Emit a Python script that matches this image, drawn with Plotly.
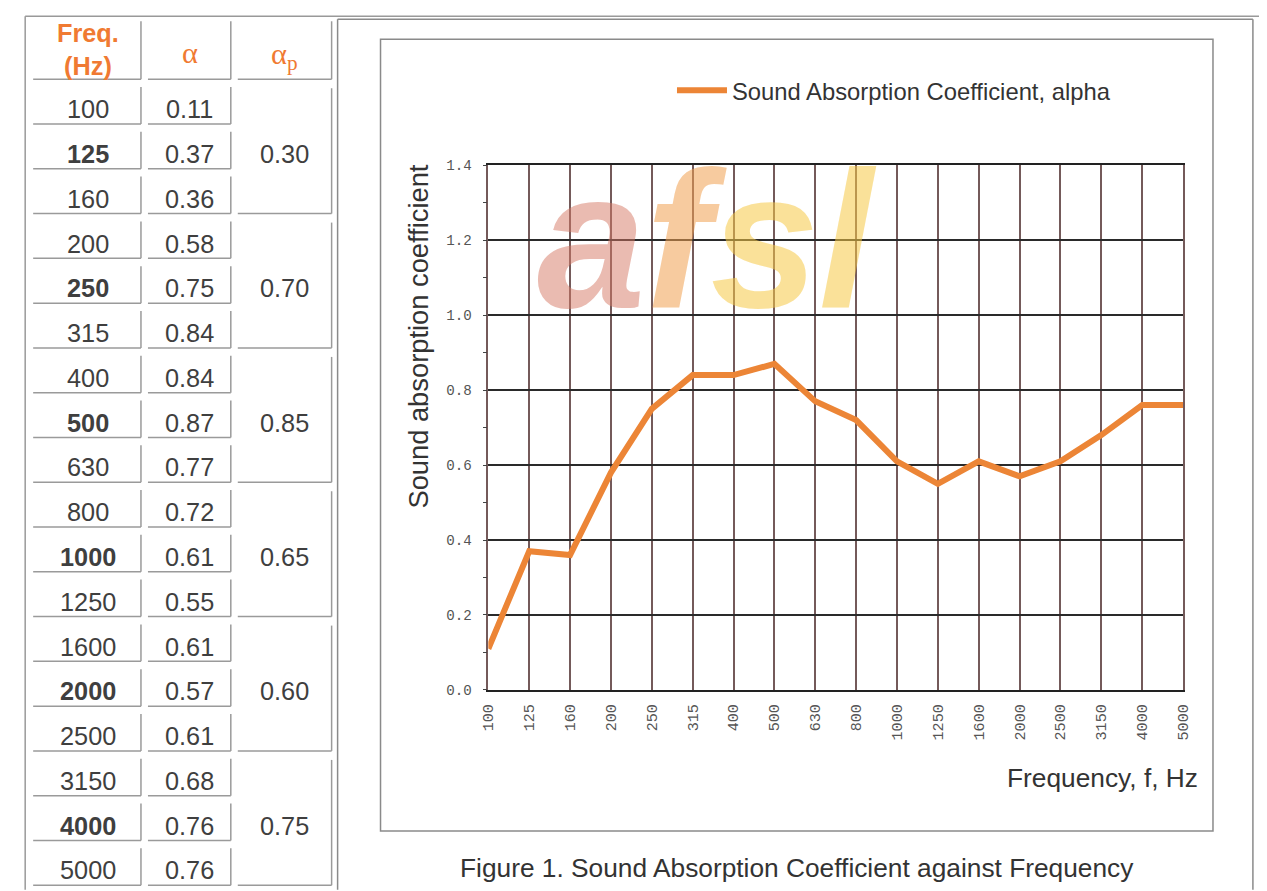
import plotly.graph_objects as go

# ---------------- data ----------------
freqs = ["100", "125", "160", "200", "250", "315", "400", "500", "630", "800",
         "1000", "1250", "1600", "2000", "2500", "3150", "4000", "5000"]
alpha = [0.11, 0.37, 0.36, 0.58, 0.75, 0.84, 0.84, 0.87, 0.77, 0.72,
         0.61, 0.55, 0.61, 0.57, 0.61, 0.68, 0.76, 0.76]
alpha_p = [0.30, 0.70, 0.85, 0.65, 0.60, 0.75]
octave_centres = ["125", "250", "500", "1000", "2000", "4000"]
y_ticks = [0.0, 0.2, 0.4, 0.6, 0.8, 1.0, 1.2, 1.4]

# layout helpers: convert target-picture pixels to paper fractions
SX, SY, OFF = 1267 / 1283, 891 / 907, 16
FW, FH = 1259, 883
FS = 1283 / 1267
def px(x): return (x / SX - OFF) / FW
def py(y): return 1 - (y / SY - OFF) / FH
def fs(s): return round(s * FS, 1)

ORANGE = "#F07A32"
LINE_ORANGE = "#EC8536"
GREY = "#9a9a9a"
TXT = "#3f3f3f"
SANS = "Liberation Sans, Arial, sans-serif"

fig = go.Figure()
fig.add_trace(go.Scatter(
    x=freqs, y=alpha,
    mode="lines", name="Sound Absorption Coefficient, alpha",
    line=dict(color=LINE_ORANGE, width=6),
))

shapes = []
def hline(x0, x1, y, color=GREY, w=1.5):
    shapes.append(dict(type="line", xref="paper", yref="paper",
                       x0=px(x0), x1=px(x1), y0=py(y), y1=py(y),
                       line=dict(color=color, width=w)))
def vline(x, y0, y1, color=GREY, w=1.5):
    shapes.append(dict(type="line", xref="paper", yref="paper",
                       x0=px(x), x1=px(x), y0=py(y0), y1=py(y1),
                       line=dict(color=color, width=w)))

# page frames
hline(25, 1262, 17, "#999999", 1.5)
vline(25, 17, 891, "#999999", 1.5)
vline(338, 20, 891, "#8a8a8a", 1.5)
hline(338, 1255, 20, "#8a8a8a", 1.5)
vline(1255, 20, 891, "#8a8a8a", 1.5)
shapes.append(dict(type="rect", xref="paper", yref="paper",
                   x0=px(381), x1=px(1215), y0=py(832), y1=py(40),
                   line=dict(color="#8a8a8a", width=1.5)))

# table cells
cols = [(33, 141), (148, 231), (238, 332)]
hdr_top, hdr_bot, row_h = 22, 80, 44.8
for (x0, x1) in cols:
    hline(x0, x1, hdr_bot)
    vline(x1, hdr_top, hdr_bot)
for i in range(len(freqs)):
    b = hdr_bot + row_h * (i + 1)
    for (x0, x1) in cols[:2]:
        hline(x0, x1, b)
        vline(x1, b - 37, b)
for g in range(len(alpha_p)):
    b = hdr_bot + row_h * 3 * (g + 1)
    x0, x1 = cols[2]
    hline(x0, x1, b)
    vline(x1, b - 3 * row_h + 9, b)

annotations = []
def text(x, y, s, size=25, color=TXT, family=SANS, xanchor="center", angle=0):
    annotations.append(dict(xref="paper", yref="paper", x=px(x), y=py(y),
                            text=s, showarrow=False, xanchor=xanchor, textangle=angle,
                            yanchor="middle", font=dict(size=fs(size), color=color, family=family)))

# header
text(88, 50, "<b>Freq.<br>(Hz)</b>", 25, ORANGE)
text(190, 54, "α", 30, ORANGE, "Liberation Serif, serif")
text(285, 57, "α<sub>p</sub>", 30, ORANGE, "Liberation Serif, serif")
for i, f in enumerate(freqs):
    yc = hdr_bot + row_h * i + 30
    lab = f"<b>{f}</b>" if f in octave_centres else f
    text(88, yc, lab, 25)
    text(190, yc, f"{alpha[i]:.2f}", 25)
for g, v in enumerate(alpha_p):
    yc = hdr_bot + row_h * (3 * g + 1) + 30
    text(285, yc, f"{v:.2f}", 25)

# watermark logo
annotations.append(dict(
    xref="paper", yref="paper", x=px(708), y=py(240), showarrow=False,
    xanchor="center", yanchor="middle",
    text="<b><i><span style='color:rgba(214,120,100,0.5)'>a</span>"
         "<span style='color:rgba(240,160,80,0.55)'>f</span>"
         "<span style='color:rgba(245,200,70,0.55)'>sl</span></i></b>",
    font=dict(size=195, family=SANS)))

# axis titles & caption
text(419, 337, "Sound absorption coefficient", 27, "#333333", SANS, "center", -90)
text(1202, 779, "Frequency, f, Hz", 26, "#333333", SANS, "right")
text(798, 869, "Figure 1. Sound Absorption Coefficient against Frequency", 26, "#333333", SANS)

fig.update_layout(
    width=FW, height=FH, margin=dict(l=0, r=0, t=0, b=0),
    paper_bgcolor="white", plot_bgcolor="white",
    shapes=shapes, annotations=annotations,
    showlegend=True,
    legend=dict(x=px(673), y=py(91), xanchor="left", yanchor="middle",
                font=dict(size=fs(23.5), color="#333333", family=SANS),
                bgcolor="rgba(0,0,0,0)", itemwidth=50),
    xaxis=dict(
        domain=[px(489), px(1185)], type="category", range=[0, len(freqs) - 1],
        categoryorder="array", categoryarray=freqs,
        showgrid=True, gridcolor="#745a5a", gridwidth=1.5,
        showline=True, linecolor="#222222", linewidth=2, mirror=True,
        tickangle=-90, ticks="", ticklabelstandoff=6,
        tickfont=dict(size=fs(15), color="#555555", family="Liberation Mono, monospace"),
        zeroline=False,
    ),
    yaxis=dict(
        domain=[py(691), py(166)], range=[0, 1.4],
        tickvals=y_ticks, ticktext=[f"{v:.1f}" for v in y_ticks],
        showgrid=True, gridcolor="#2a2a2a", gridwidth=1.5,
        showline=True, linecolor="#745a5a", linewidth=1.5, mirror=True,
        ticks="outside", ticklen=4, tickcolor="#444444", ticklabelstandoff=8,
        minor=dict(dtick=0.1, ticks="outside", ticklen=4, tickcolor="#444444", showgrid=False),
        tickfont=dict(size=fs(14), color="#555555", family="Liberation Mono, monospace"),
        zeroline=False,
    ),
)

fig.write_html("out.html")
